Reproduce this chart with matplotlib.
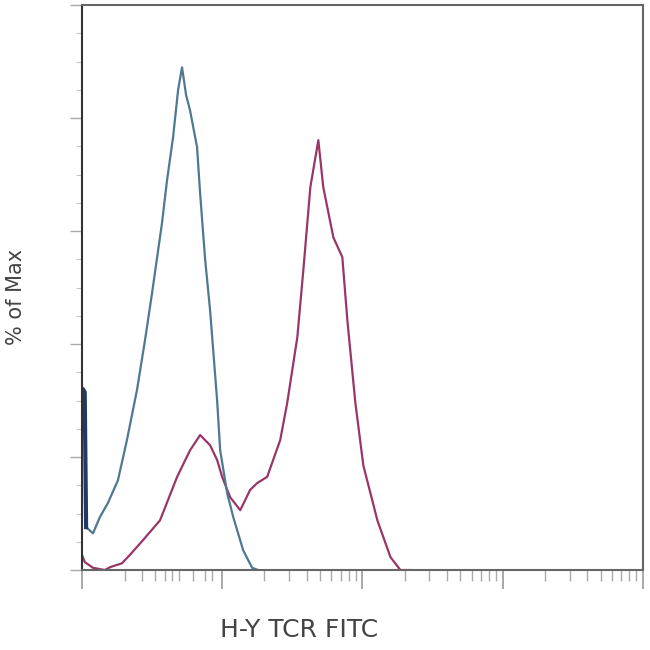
import numpy as np
import matplotlib
matplotlib.use("Agg")
import matplotlib.pyplot as plt

# x in display decades (biexponential-like axis), y in % of max
blue_x = [0.01, 0.02, 0.03, 0.079, 0.129, 0.186, 0.257, 0.321, 0.393, 0.45, 0.5,
          0.571, 0.607, 0.65, 0.686, 0.714, 0.743, 0.771, 0.821, 0.843, 0.879,
          0.914, 0.964, 0.986, 1.036, 1.079, 1.15, 1.214, 1.257]
blue_y = [31.9, 31.5, 7.6, 6.5, 9.4, 11.9, 15.9, 23.0, 31.9, 40.7, 49.0,
          61.4, 69.0, 76.6, 85.0, 89.0, 84.1, 81.4, 74.9, 66.7, 54.9,
          46.0, 30.1, 21.2, 13.6, 9.4, 3.5, 0.4, 0.0]

pink_x = [0.0, 0.021, 0.079, 0.164, 0.2, 0.286, 0.343, 0.436, 0.557, 0.679,
          0.771, 0.843, 0.914, 0.964, 1.0, 1.057, 1.129, 1.2, 1.25, 1.321,
          1.414, 1.464, 1.536, 1.579, 1.629, 1.686, 1.721, 1.793, 1.857, 1.893,
          1.95, 2.007, 2.107, 2.2, 2.271, 2.343]
pink_y = [2.7, 1.4, 0.4, 0.0, 0.5, 1.2, 2.7, 5.3, 8.8, 16.5,
          21.2, 23.9, 22.1, 19.5, 16.5, 12.9, 10.6, 14.2, 15.4, 16.5,
          23.0, 29.6, 41.2, 53.1, 67.8, 76.1, 67.8, 58.9, 55.4, 44.2,
          29.6, 18.5, 8.8, 2.3, 0.0, 0.0]

fig = plt.figure(figsize=(6.5, 6.5), dpi=100)
ax = fig.add_axes([0.126, 0.123, 0.863, 0.869])

ax.plot(pink_x, pink_y, color='#9a3568', lw=1.6)
ax.plot(blue_x, blue_y, color='#4f7893', lw=1.6)
# dark spike at the left edge
ax.plot(blue_x[:3], blue_y[:3], color='#1f3a66', lw=3.0)

ax.set_xlim(0, 4.0)
ax.set_ylim(0, 100)

# x ticks: decades with log-spaced minors
major_x = [0, 1, 2, 3, 4]
minor_x = [0.31, 0.43, 0.52, 0.59, 0.64, 0.69, 0.79, 0.88, 0.93]
for d in [1, 2, 3]:
    minor_x += [d + np.log10(k) for k in range(2, 10)]
ax.set_xticks(major_x)
ax.set_xticks(minor_x, minor=True)
ax.set_yticks([0, 20, 40, 60, 80, 100])
ax.set_yticks(np.arange(0, 101, 5), minor=True)
ax.set_xticklabels([])
ax.set_yticklabels([])

ax.tick_params(axis='x', which='major', length=14, width=1.2, color='#999999', direction='out')
ax.tick_params(axis='x', which='minor', length=8, width=1.0, color='#aaaaaa', direction='out')
ax.tick_params(axis='y', which='major', length=9, width=1.0, color='#aaaaaa', direction='out')
ax.tick_params(axis='y', which='minor', length=4, width=0.8, color='#c4c4c4', direction='out')

for side in ['top', 'right', 'bottom']:
    ax.spines[side].set_color('#666666')
    ax.spines[side].set_linewidth(1.5)
ax.spines['left'].set_color('#333333')
ax.spines['left'].set_linewidth(1.5)

fig.text(0.46, 0.031, 'H-Y TCR FITC', ha='center', va='center', fontsize=18, color='#444444')
fig.text(0.024, 0.543, '% of Max', ha='center', va='center', rotation=90, fontsize=15, color='#444444')

plt.savefig('out.png', dpi=100)
plt.close()
